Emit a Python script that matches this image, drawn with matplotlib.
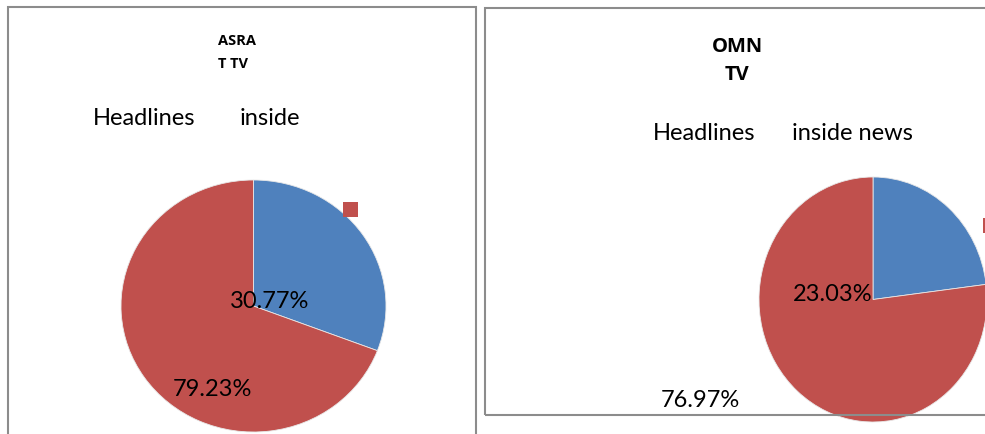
import matplotlib
matplotlib.use("Agg")
import matplotlib.pyplot as plt
from matplotlib.patches import Rectangle

W, H = 985, 434
plt.rcParams['font.family'] = ['Lato', 'DejaVu Sans']

# Data
categories = ["Headlines", "inside news"]
asrat_values = [30.77, 69.23]
asrat_labels = ["30.77%", "79.23%"]
omn_values = [23.03, 76.97]
omn_labels = ["23.03%", "76.97%"]
colors = ["#4F81BD", "#C0504D"]

fig = plt.figure(figsize=(W / 100, H / 100), dpi=100)
fig.patch.set_facecolor("white")

def fx(x):
    return x / W

def fy(y):
    return 1 - y / H

def pie_axes(left, top, right, bottom, values):
    ax = fig.add_axes([fx(left), fy(bottom), (right - left) / W, (bottom - top) / H])
    ax.pie(values, colors=colors, startangle=90, counterclock=False,
           wedgeprops=dict(edgecolor="#e8e8e8", linewidth=0.6), radius=1)
    ax.set_aspect("auto")
    ax.set_xlim(-1, 1)
    ax.set_ylim(-1, 1)
    ax.axis("off")
    return ax

# Left pie (elliptical as in the reference)
pie_axes(121, 180, 386, 432, asrat_values)
# Right pie
pie_axes(759, 177, 987, 422, omn_values)

# Frames
gray = "#8c8c8c"
fig.add_artist(Rectangle((fx(8), fy(440)), (476 - 8) / W, (440 - 7) / H,
                         transform=fig.transFigure, fill=False,
                         edgecolor=gray, linewidth=1.5, zorder=10))
fig.add_artist(Rectangle((fx(485), fy(415)), (1000 - 485) / W, (415 - 8) / H,
                         transform=fig.transFigure, fill=False,
                         edgecolor=gray, linewidth=1.5, zorder=10))

# Legend markers
fig.add_artist(Rectangle((fx(343), fy(217)), 15 / W, 15 / H, transform=fig.transFigure,
                         facecolor=colors[1], edgecolor="none", zorder=11))
fig.add_artist(Rectangle((fx(983), fy(233)), 15 / W, 15 / H, transform=fig.transFigure,
                         facecolor=colors[1], edgecolor="none", zorder=11))

# Titles
bold_fam = ["Open Sans", "DejaVu Sans"]
fig.text(fx(218), fy(45), "ASRA", fontsize=10.5, fontweight="bold", family=bold_fam,
         ha="left", va="baseline")
fig.text(fx(218), fy(68), "T TV", fontsize=10.5, fontweight="bold", family=bold_fam,
         ha="left", va="baseline")
fig.text(fx(737), fy(52), "OMN", fontsize=14.5, fontweight="bold", family=bold_fam,
         ha="center", va="baseline")
fig.text(fx(737), fy(80), "TV", fontsize=14.5, fontweight="bold", family=bold_fam,
         ha="center", va="baseline")

# Category texts
fig.text(fx(93), fy(125), categories[0], fontsize=17, ha="left", va="baseline")
fig.text(fx(240), fy(125), "inside", fontsize=17, ha="left", va="baseline")
fig.text(fx(653), fy(140), categories[0], fontsize=17, ha="left", va="baseline")
fig.text(fx(792), fy(140), categories[1], fontsize=17, ha="left", va="baseline")

# Percent labels
fig.text(fx(230), fy(308), asrat_labels[0], fontsize=17, ha="left", va="baseline", zorder=12)
fig.text(fx(173), fy(396), asrat_labels[1], fontsize=17, ha="left", va="baseline", zorder=12)
fig.text(fx(793), fy(301), omn_labels[0], fontsize=17, ha="left", va="baseline", zorder=12)
fig.text(fx(661), fy(407), omn_labels[1], fontsize=17, ha="left", va="baseline", zorder=12)

fig.savefig("out.png", dpi=100)
